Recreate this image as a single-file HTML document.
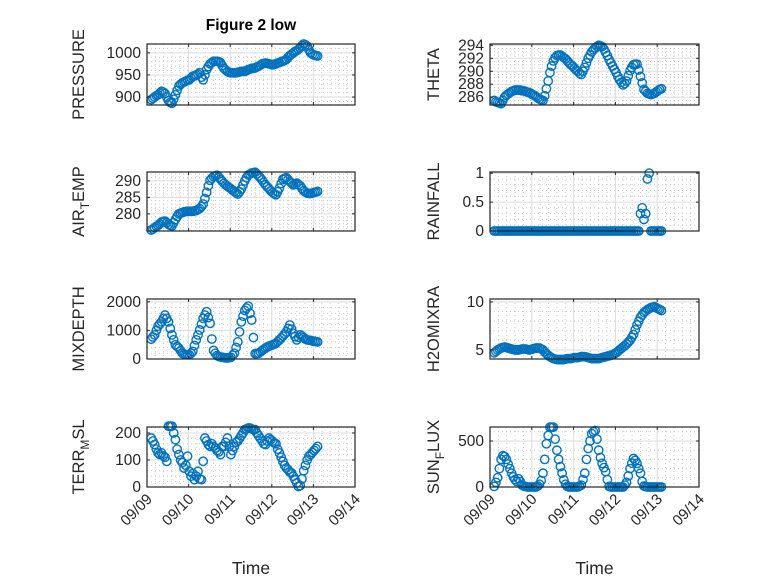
<!DOCTYPE html>
<html><head><meta charset="utf-8"><style>
body{margin:0;background:#fff;}
svg{display:block;font-family:"Liberation Sans","DejaVu Sans",sans-serif;}
</style></head><body>
<svg id="fig" width="778" height="583" viewBox="0 0 778 583">
<rect width="778" height="583" fill="#fff"/>
<text x="251" y="30" text-anchor="middle" font-size="15.5" font-weight="bold" fill="#000">Figure 2 low</text>
</svg>
<script>
const startDay = 0.1;
const endDay = 4.1;
const xTickLabels = ["09/09","09/10","09/11","09/12","09/13","09/14"];
const pressure = [894,897,900,903,905,909,913,911,908,900,892,888,886,895,905,915,925,929,932,934,936,938,939,943,947,948,950,952,955,945,939,950,962,969,975,978,981,981,981,980,978,971,965,961,958,956,955,955,955,955,956,957,958,958,958,960,962,963,965,965,966,968,970,972,975,976,977,976,975,974,973,974,975,977,978,980,981,983,985,990,994,997,1000,1003,1005,1008,1012,1016,1020,1018,1015,1007,1000,997,995,994,993];
const theta = [285.5,285.3,285.2,285.1,285.0,285.5,286.0,286.3,286.5,286.7,286.9,287.0,287.1,287.1,287.1,287.1,287.0,287.0,286.9,286.8,286.7,286.6,286.4,286.3,286.1,285.9,285.7,285.6,285.5,286.2,287.3,288.5,289.8,290.8,291.6,292.1,292.4,292.5,292.5,292.3,292.1,291.9,291.6,291.3,291.0,290.8,290.5,290.2,290.0,289.7,289.5,290.0,290.6,291.3,292.0,292.5,293.0,293.3,293.6,293.8,294.0,293.9,293.8,293.4,292.9,292.4,291.8,291.3,290.8,290.3,289.8,289.2,288.7,288.3,287.9,288.1,288.5,289.3,290.1,290.6,291.0,291.1,291.1,290.2,289.2,288.2,287.2,286.9,286.6,286.5,286.4,286.5,286.6,286.8,287.0,287.2,287.3];
const airTemp = [275.1,275.4,275.8,276.2,276.5,277.0,277.5,277.7,277.8,277.3,276.8,276.5,276.3,277.3,278.3,279.2,280.0,280.2,280.4,280.6,280.7,280.8,280.8,280.8,280.8,280.9,281.0,281.3,281.6,282.2,283.0,284.6,286.5,288.5,290.2,290.8,291.3,291.5,291.7,291.1,290.5,289.9,289.3,288.8,288.4,288.0,287.6,287.2,286.8,286.4,286.0,286.7,287.5,288.8,290.0,291.0,291.8,292.1,292.4,292.5,292.6,292.1,291.5,290.9,290.3,289.5,288.8,288.2,287.6,287.0,286.5,286.1,285.8,286.7,287.8,289.2,290.5,290.8,291.0,290.4,289.8,289.3,288.8,289.0,289.3,288.9,288.5,287.7,287.0,286.6,286.3,286.2,286.2,286.3,286.5,286.6,286.8];
const rainfall = [0,0,0,0,0,0,0,0,0,0,0,0,0,0,0,0,0,0,0,0,0,0,0,0,0,0,0,0,0,0,0,0,0,0,0,0,0,0,0,0,0,0,0,0,0,0,0,0,0,0,0,0,0,0,0,0,0,0,0,0,0,0,0,0,0,0,0,0,0,0,0,0,0,0,0,0,0,0,0,0,0,0,0,0,0.3,0.4,0.2,0.3,0.9,1.0,0,0,0,0,0,0,0];
const mixDepth = [694,770,844,1000,1150,1230,1300,1420,1537,1420,1300,1070,844,670,497,440,382,290,200,175,150,150,150,200,266,470,670,840,1017,1220,1422,1540,1653,1450,1249,700,300,200,120,90,70,60,50,40,35,45,60,130,200,400,600,950,1300,1500,1700,1780,1850,1600,1364,750,186,190,200,250,300,340,382,420,450,470,497,520,550,610,670,730,800,870,950,1070,1190,1050,900,780,670,760,844,800,750,700,670,660,650,635,620,610,600];
const h2oMix = [4.7,4.85,5.0,5.1,5.2,5.25,5.3,5.25,5.2,5.15,5.1,5.05,5.0,5.0,5.0,5.05,5.1,5.1,5.1,5.05,5.0,5.05,5.1,5.15,5.2,5.2,5.2,5.1,5.0,4.8,4.6,4.45,4.3,4.2,4.1,4.05,4.0,4.0,4.0,4.0,4.0,4.05,4.1,4.1,4.1,4.15,4.2,4.2,4.2,4.25,4.3,4.3,4.3,4.25,4.2,4.15,4.1,4.1,4.1,4.1,4.1,4.15,4.2,4.25,4.3,4.35,4.4,4.45,4.5,4.6,4.7,4.85,5.0,5.15,5.3,5.45,5.6,5.8,6.0,6.3,6.6,7.1,7.6,8.0,8.4,8.65,8.9,9.05,9.2,9.3,9.4,9.45,9.5,9.4,9.3,9.2,9.1];
const terrMsl = [181,170,157,140,126,120,126,115,110,95,225,225,225,200,175,140,120,100,90,70,80,114,58,40,50,27,40,58,30,27,95,181,170,157,150,160,150,144,135,130,120,150,150,165,181,150,120,135,150,165,170,180,190,200,212,215,218,218,215,212,212,200,190,180,170,160,157,170,181,175,170,163,160,140,126,110,95,80,70,64,55,52,40,27,15,2,5,30,60,80,100,114,120,128,135,142,150];
const sunFlux = [7,50,100,200,300,340,330,300,250,200,150,110,80,60,90,60,20,10,5,0,0,0,0,0,0,10,30,70,150,300,470,560,650,650,650,520,400,300,221,150,78,30,7,0,0,0,0,0,0,10,20,80,150,300,418,500,580,600,614,520,400,320,257,210,168,80,7,0,0,0,0,0,0,0,0,20,50,120,200,260,310,290,257,200,150,60,10,5,0,0,0,0,0,0,0,0,0];
const pressureTicks = [900,950,1000];
const thetaTicks = [286,288,290,292,294];
const airTicks = [280,285,290];
const rainTicks = [0,0.5,1];
const mixTicks = [0,1000,2000];
const h2oTicks = [5,10];
const terrTicks = [0,100,200];
const sunTicks = [0,500];

const NS="http://www.w3.org/2000/svg";
const svg=document.getElementById('fig');
function mk(tag,attrs,parent){const e=document.createElementNS(NS,tag);for(const k in attrs)e.setAttribute(k,attrs[k]);(parent||svg).appendChild(e);return e;}

const panels=[
 {name:'pressure',label:['PRESSURE'],x0:147,x1:355,y0:44,y1:105,min:882,max:1020,ticks:pressureTicks,minor:10,data:pressure,lx:84,xt:false},
 {name:'theta',label:['THETA'],x0:490,x1:699,y0:44,y1:105,min:284.8,max:294.2,ticks:thetaTicks,minor:0.5,data:theta,lx:439,xt:false},
 {name:'air-temp',label:['AIR','T','EMP'],x0:147,x1:355,y0:172,y1:231,min:274.8,max:292.7,ticks:airTicks,minor:1,data:airTemp,lx:84,xt:false},
 {name:'rainfall',label:['RAINFALL'],x0:490,x1:699,y0:172,y1:231,min:0,max:1.02,ticks:rainTicks,minor:0.1,data:rainfall,lx:439,xt:false},
 {name:'mixdepth',label:['MIXDEPTH'],x0:147,x1:355,y0:299,y1:359,min:0,max:2100,ticks:mixTicks,minor:200,data:mixDepth,lx:84,xt:false},
 {name:'h2omixra',label:['H2OMIXRA'],x0:490,x1:699,y0:299,y1:359,min:4.06,max:10.3,ticks:h2oTicks,minor:1,data:h2oMix,lx:439,xt:false},
 {name:'terr-msl',label:['TERR','M','SL'],x0:147,x1:355,y0:427,y1:487,min:0,max:222,ticks:terrTicks,minor:20,data:terrMsl,lx:84,xt:true},
 {name:'sun-flux',label:['SUN','F','LUX'],x0:490,x1:699,y0:427,y1:487,min:0,max:652,ticks:sunTicks,minor:100,data:sunFlux,lx:439,xt:true}
];

panels.forEach(p=>{
 const g=mk('g',{});
 
 
 const xs=t=>p.x0+(t/5)*(p.x1-p.x0);
 const ys=v=>p.y1-(v-p.min)/(p.max-p.min)*(p.y1-p.y0);
 for(let t=0.2;t<5;t+=0.2){ if(Math.abs(t-Math.round(t))<1e-6) continue;
  mk('line',{x1:xs(t),x2:xs(t),y1:p.y0,y2:p.y1,stroke:'#c8c8c8','stroke-width':1,'stroke-dasharray':'1 3'},g);}
 const st=Math.ceil(p.min/p.minor)*p.minor;
 for(let v=st;v<=p.max+1e-9;v+=p.minor){ if(p.ticks.some(tk=>Math.abs(tk-v)<1e-6)) continue;
  mk('line',{x1:p.x0,x2:p.x1,y1:ys(v),y2:ys(v),stroke:'#c8c8c8','stroke-width':1,'stroke-dasharray':'1 3'},g);}
 for(let d=1;d<5;d++) mk('line',{x1:xs(d),x2:xs(d),y1:p.y0,y2:p.y1,stroke:'#dcdcdc','stroke-width':1},g);
 p.ticks.forEach(v=>{ mk('line',{x1:p.x0,x2:p.x1,y1:ys(v),y2:ys(v),stroke:'#dcdcdc','stroke-width':1},g);});
 const n=p.data.length;
 p.data.forEach((v,i)=>{
  const t=startDay+(endDay-startDay)*i/(n-1);
  const c=mk('circle',{cx:xs(t),cy:ys(v),r:4.2,fill:'none',stroke:'#0072BD','stroke-width':1.4},g);
  
  
 });
 const b=mk('rect',{x:p.x0,y:p.y0,width:p.x1-p.x0,height:p.y1-p.y0,fill:'none',stroke:'#262626','stroke-width':1.2},g);
 
 
 for(let d=0;d<=5;d++){
  mk('line',{x1:xs(d),x2:xs(d),y1:p.y1,y2:p.y1-3,stroke:'#262626'},g);
  mk('line',{x1:xs(d),x2:xs(d),y1:p.y0,y2:p.y0+3,stroke:'#262626'},g);
  if(p.xt){
   const tx=mk('text',{x:0,y:0,'font-size':15,fill:'#262626','text-anchor':'end',transform:`translate(${xs(d)+6},${p.y1+13}) rotate(-45)`},g);
   tx.textContent=xTickLabels[d];
   
   
  }
 }
 p.ticks.forEach(v=>{
  mk('line',{x1:p.x0,x2:p.x0+3,y1:ys(v),y2:ys(v),stroke:'#262626'},g);
  mk('line',{x1:p.x1,x2:p.x1-3,y1:ys(v),y2:ys(v),stroke:'#262626'},g);
  const tl=mk('text',{x:p.x0-6,y:ys(v)+5,'font-size':15.5,fill:'#262626','text-anchor':'end'},g);
  tl.textContent=String(v);
  
  
 });
 const cy=(p.y0+p.y1)/2;
 const yl=mk('text',{x:0,y:0,'font-size':16.5,fill:'#262626','text-anchor':'middle',transform:`translate(${p.lx},${cy}) rotate(-90)`},g);
 
 
 if(p.label.length===1){yl.textContent=p.label[0];}
 else{
  const a=mk('tspan',{},yl);a.textContent=p.label[0];
  const s=mk('tspan',{dy:5,'font-size':12},yl);s.textContent=p.label[1];
  const c=mk('tspan',{dy:-5},yl);c.textContent=p.label[2];
 }
 if(p.xt){
  const xl=mk('text',{x:(p.x0+p.x1)/2,y:574,'font-size':17.5,fill:'#262626','text-anchor':'middle'},g);
  xl.textContent='Time';
  
  
 }
});
</script>
</body></html>
